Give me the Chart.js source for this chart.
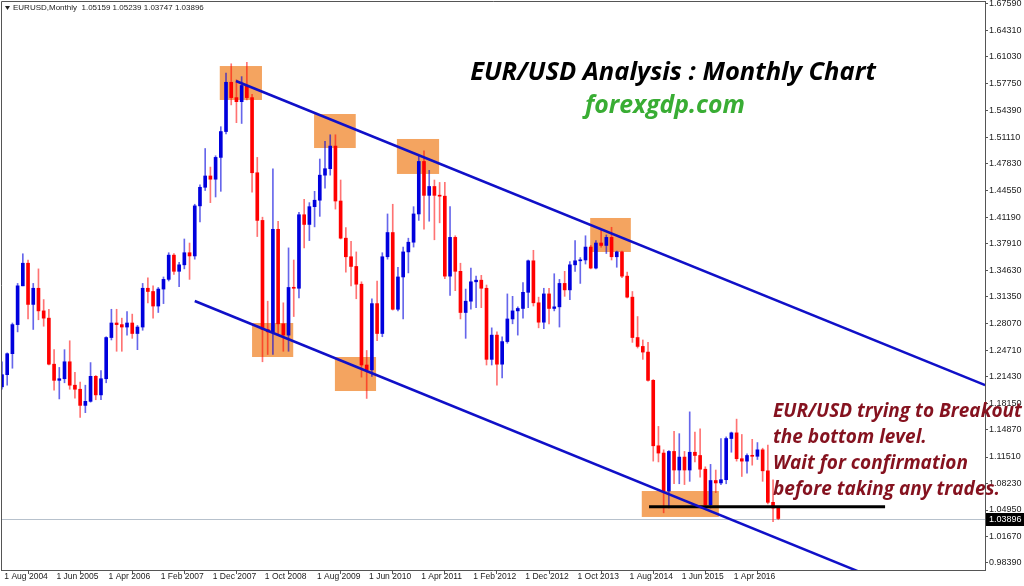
<!DOCTYPE html>
<html>
<head>
<meta charset="utf-8">
<script src="https://cdn.jsdelivr.net/npm/chart.js@4.4.1/dist/chart.umd.min.js"></script>
<style>
  html, body { margin: 0; padding: 0; background: #fff; }
</style>
</head>
<body>
<canvas id="chart" width="1024" height="586"></canvas>
<script>
// EURUSD monthly candles, Aug 2004 .. Jan 2017 (index 0 = Aug 2004)
const opens = [
  1.2020, 1.2170, 1.2430, 1.2790, 1.3270,                                                  // 2004
  1.3550, 1.3040, 1.3240, 1.2960, 1.2870, 1.2300, 1.2100, 1.2120, 1.2330, 1.2040, 1.1990, 1.1790, // 2005
  1.1840, 1.2150, 1.1920, 1.2120, 1.2630, 1.2810, 1.2790, 1.2760, 1.2810, 1.2680, 1.2760, 1.3240, // 2006
  1.3200, 1.3020, 1.3230, 1.3350, 1.3650, 1.3450, 1.3530, 1.3680, 1.3640, 1.4260, 1.4490, 1.4630, // 2007
  1.4590, 1.4860, 1.5180, 1.5790, 1.5600, 1.5550, 1.5750, 1.5600, 1.4670, 1.4080, 1.2730, 1.2700, // 2008
  1.3970, 1.2800, 1.2660, 1.3250, 1.3240, 1.4150, 1.4030, 1.4250, 1.4330, 1.4640, 1.4720, 1.5000, // 2009
  1.4320, 1.3860, 1.3630, 1.3510, 1.3290, 1.2290, 1.2230, 1.3050, 1.2680, 1.3630, 1.3930, 1.2980, // 2010
  1.3380, 1.3690, 1.3810, 1.4160, 1.4810, 1.4390, 1.4500, 1.4390, 1.4380, 1.3390, 1.3870, 1.3450, // 2011
  1.2940, 1.3080, 1.3320, 1.3340, 1.3240, 1.2360, 1.2660, 1.2300, 1.2580, 1.2860, 1.2960, 1.2990, // 2012
  1.3190, 1.3580, 1.3060, 1.2820, 1.3170, 1.2990, 1.3010, 1.3300, 1.3220, 1.3530, 1.3580, 1.3590, // 2013
  1.3750, 1.3490, 1.3800, 1.3770, 1.3870, 1.3630, 1.3690, 1.3390, 1.3130, 1.2630, 1.2520, 1.2450, // 2014
  1.2100, 1.1290, 1.1200, 1.0730, 1.1220, 1.0990, 1.1150, 1.0990, 1.1210, 1.1170, 1.1000, 1.0560, // 2015
  1.0860, 1.0830, 1.0870, 1.1380, 1.1450, 1.1130, 1.1100, 1.1170, 1.1160, 1.1240, 1.0980, 1.0590, // 2016
  1.05159                                                                                  // 2017
];
const highs = [
  1.2330, 1.2440, 1.2810, 1.3300, 1.3667,
  1.3590, 1.3300, 1.3480, 1.3100, 1.2980, 1.2480, 1.2260, 1.2480, 1.2590, 1.2200, 1.2080, 1.2040,
  1.2320, 1.2160, 1.2220, 1.2640, 1.2980, 1.2980, 1.2870, 1.2950, 1.2920, 1.2780, 1.3300, 1.3370,
  1.3270, 1.3250, 1.3380, 1.3680, 1.3670, 1.3560, 1.3850, 1.3800, 1.4280, 1.4520, 1.4970, 1.4740,
  1.4880, 1.5240, 1.5905, 1.6019, 1.5820, 1.5860, 1.6038, 1.5640, 1.4860, 1.4120, 1.3080, 1.4720,
  1.4070, 1.3060, 1.3740, 1.3590, 1.4180, 1.4340, 1.4300, 1.4440, 1.4840, 1.5060, 1.5140, 1.5140,
  1.4580, 1.3990, 1.3820, 1.3690, 1.3320, 1.2470, 1.3110, 1.3330, 1.3680, 1.4160, 1.4280, 1.3500,
  1.3750, 1.3860, 1.4250, 1.4880, 1.4940, 1.4700, 1.4580, 1.4550, 1.4550, 1.4250, 1.3890, 1.3550,
  1.3230, 1.3490, 1.3390, 1.3400, 1.3280, 1.2750, 1.2700, 1.2640, 1.3170, 1.3140, 1.3010, 1.3310,
  1.3590, 1.3710, 1.3130, 1.3240, 1.3240, 1.3420, 1.3350, 1.3450, 1.3570, 1.3830, 1.3620, 1.3890,
  1.3770, 1.3830, 1.3960, 1.3900, 1.3995, 1.3700, 1.3700, 1.3440, 1.3200, 1.2890, 1.2600, 1.2570,
  1.2110, 1.1530, 1.1240, 1.1230, 1.1470, 1.1440, 1.1220, 1.1710, 1.1460, 1.1500, 1.1030, 1.1060,
  1.0990, 1.1380, 1.1400, 1.1460, 1.1620, 1.1430, 1.1190, 1.1370, 1.1330, 1.1260, 1.1300, 1.0870,
  1.05239
];
const lows = [
  1.1990, 1.2040, 1.2250, 1.2700, 1.3270,
  1.2860, 1.2730, 1.2850, 1.2770, 1.2290, 1.1980, 1.1870, 1.2070, 1.1990, 1.1880, 1.1640, 1.1700,
  1.1830, 1.1860, 1.1860, 1.2070, 1.2600, 1.2460, 1.2460, 1.2660, 1.2620, 1.2480, 1.2720, 1.3060,
  1.2870, 1.2940, 1.3050, 1.3330, 1.3410, 1.3260, 1.3480, 1.3350, 1.3600, 1.4060, 1.4450, 1.4300,
  1.4370, 1.4440, 1.5150, 1.5510, 1.5290, 1.5280, 1.5570, 1.4430, 1.3880, 1.2330, 1.2420, 1.2420,
  1.2660, 1.2460, 1.2460, 1.2890, 1.3120, 1.3740, 1.3830, 1.4000, 1.4130, 1.4480, 1.4640, 1.4220,
  1.3850, 1.3440, 1.3270, 1.3110, 1.2140, 1.1876, 1.2150, 1.2590, 1.2640, 1.3600, 1.2970, 1.2960,
  1.2860, 1.3430, 1.3750, 1.4080, 1.3970, 1.4070, 1.3840, 1.4050, 1.3360, 1.3150, 1.3210, 1.2860,
  1.2620, 1.2980, 1.3000, 1.3000, 1.2290, 1.2290, 1.2040, 1.2130, 1.2560, 1.2800, 1.2660, 1.2870,
  1.3000, 1.3020, 1.2750, 1.2740, 1.2800, 1.2960, 1.2760, 1.3140, 1.3100, 1.3450, 1.3300, 1.3540,
  1.3480, 1.3480, 1.3750, 1.3670, 1.3590, 1.3500, 1.3370, 1.3120, 1.2570, 1.2500, 1.2360, 1.2090,
  1.1100, 1.1090, 1.0460, 1.0520, 1.0820, 1.0820, 1.0810, 1.0850, 1.1090, 1.0900, 1.0550, 1.0520,
  1.0710, 1.0810, 1.0820, 1.1210, 1.1100, 1.0910, 1.0950, 1.1050, 1.1120, 1.0850, 1.0570, 1.0350,
  1.03747
];
const closes = [
  1.2170, 1.2430, 1.2790, 1.3270, 1.3550,
  1.3040, 1.3240, 1.2960, 1.2870, 1.2300, 1.2100, 1.2120, 1.2330, 1.2040, 1.1990, 1.1790, 1.1840,
  1.2150, 1.1920, 1.2120, 1.2630, 1.2810, 1.2790, 1.2760, 1.2810, 1.2680, 1.2760, 1.3240, 1.3200,
  1.3020, 1.3230, 1.3350, 1.3650, 1.3450, 1.3530, 1.3680, 1.3640, 1.4260, 1.4490, 1.4630, 1.4590,
  1.4860, 1.5180, 1.5790, 1.5600, 1.5550, 1.5750, 1.5600, 1.4670, 1.4080, 1.2730, 1.2700, 1.3970,
  1.2800, 1.2660, 1.3250, 1.3240, 1.4150, 1.4030, 1.4250, 1.4330, 1.4640, 1.4720, 1.5000, 1.4320,
  1.3860, 1.3630, 1.3510, 1.3290, 1.2290, 1.2230, 1.3050, 1.2680, 1.3630, 1.3930, 1.2980, 1.3380,
  1.3690, 1.3810, 1.4160, 1.4810, 1.4390, 1.4500, 1.4390, 1.4380, 1.3390, 1.3870, 1.3450, 1.2940,
  1.3080, 1.3320, 1.3340, 1.3240, 1.2360, 1.2660, 1.2300, 1.2580, 1.2860, 1.2960, 1.2990, 1.3190,
  1.3580, 1.3060, 1.2820, 1.3170, 1.2990, 1.3010, 1.3300, 1.3220, 1.3530, 1.3580, 1.3590, 1.3750,
  1.3490, 1.3800, 1.3770, 1.3870, 1.3630, 1.3690, 1.3390, 1.3130, 1.2630, 1.2520, 1.2450, 1.2100,
  1.1290, 1.1200, 1.0730, 1.1220, 1.0990, 1.1150, 1.0990, 1.1210, 1.1170, 1.1000, 1.0560, 1.0860,
  1.0830, 1.0870, 1.1380, 1.1450, 1.1130, 1.1100, 1.1170, 1.1160, 1.1240, 1.0980, 1.0590, 1.0520,
  1.03896
];

// time axis labels (month index -> label)
const xTickIdx = [0, 10, 20, 30, 40, 50, 60, 70, 80, 90, 100, 110, 120, 130, 140];
const xTickLabels = ["1 Aug 2004", "1 Jun 2005", "1 Apr 2006", "1 Feb 2007", "1 Dec 2007",
  "1 Oct 2008", "1 Aug 2009", "1 Jun 2010", "1 Apr 2011", "1 Feb 2012", "1 Dec 2012",
  "1 Oct 2013", "1 Aug 2014", "1 Jun 2015", "1 Apr 2016"];

// price axis labels
const yTicks = [1.67590, 1.64310, 1.61030, 1.57750, 1.54390, 1.51110, 1.47830, 1.44550,
  1.41190, 1.37910, 1.34630, 1.31350, 1.28070, 1.24710, 1.21430, 1.18150, 1.14870,
  1.11510, 1.08230, 1.04950, 1.01670, 0.98390];

// channel lines (month index, price)
const upperLine = [[44.9, 1.5806], [188.7, 1.2042]];
const lowerLine = [[37.0, 1.3082], [170.0, 0.9587]];
const supportLine = [[124.2, 1.0535], [169.5, 1.0535]];

// highlighted zones (month from/to, price top/bottom)
const zoneFrom = [41.8, 59.9, 75.8, 48.0, 63.9, 112.9, 122.8];
const zoneTo = [49.9, 67.9, 83.9, 55.9, 71.8, 120.7, 137.6];
const zoneTop = [1.5991, 1.5397, 1.5088, 1.2810, 1.2389, 1.4110, 1.0730];
const zoneBottom = [1.5571, 1.4976, 1.4655, 1.2389, 1.1968, 1.3689, 1.0409];

const noteLines = ["EUR/USD trying to Breakout", "the bottom level.", "Wait for confirmation", "before taking any trades."];

const UP = "#0000dd", DOWN = "#ff0000";
const isUp = opens.map((o, i) => closes[i] >= o);

const wickData = opens.map((_, i) => ({ x: i, y: [lows[i], highs[i]] }));
const bodyData = opens.map((o, i) => ({ x: i, y: [o, closes[i]] }));
const toPts = (arr) => arr.map(([x, y]) => ({ x, y }));

const TEXT_FONT = "'Open Sans'";

function fitSize(ctx, text, style, family, width) {
  ctx.font = `${style} 100px ${family}`;
  return 100 * width / ctx.measureText(text).width;
}

const overlay = {
  id: "overlay",
  beforeDatasetsDraw(chart) {
    const { ctx, chartArea: a, scales: { x, y } } = chart;
    ctx.save();
    ctx.beginPath();
    ctx.rect(a.left, a.top, a.right - a.left, a.bottom - a.top);
    ctx.clip();
    // last price line
    const py = Math.round(y.getPixelForValue(closes[closes.length - 1])) + 0.5;
    ctx.strokeStyle = "#b7c1cc";
    ctx.lineWidth = 1;
    ctx.beginPath();
    ctx.moveTo(a.left, py);
    ctx.lineTo(a.right, py);
    ctx.stroke();
    // zones
    ctx.fillStyle = "#f4a460";
    zoneFrom.forEach((m, k) => {
      const x0 = x.getPixelForValue(m), x1 = x.getPixelForValue(zoneTo[k]);
      const y0 = y.getPixelForValue(zoneTop[k]), y1 = y.getPixelForValue(zoneBottom[k]);
      ctx.fillRect(x0, y0, x1 - x0, y1 - y0);
    });
    ctx.restore();
  },
  afterDraw(chart) {
    const { ctx, chartArea: a, scales: { y } } = chart;
    ctx.save();
    // frame
    ctx.strokeStyle = "#555";
    ctx.lineWidth = 1;
    ctx.beginPath();
    ctx.moveTo(a.left + 0.5, a.bottom);
    ctx.lineTo(a.left + 0.5, a.top + 0.5);
    ctx.lineTo(a.right, a.top + 0.5);
    ctx.stroke();

    // header
    ctx.fillStyle = "#222";
    ctx.beginPath();
    ctx.moveTo(5, 6); ctx.lineTo(10, 6); ctx.lineTo(7.5, 10); ctx.closePath();
    ctx.fill();
    ctx.font = "8px 'Liberation Sans'";
    ctx.textBaseline = "middle";
    ctx.textAlign = "left";
    ctx.fillText("EURUSD,Monthly  " + [opens, highs, lows, closes].map(s => s[s.length - 1].toFixed(5)).join(" "), 13, 8);

    // title
    const title = "EUR/USD Analysis : Monthly Chart";
    let fs = fitSize(ctx, title, "italic bold", TEXT_FONT, 406);
    ctx.font = `italic bold ${fs}px ${TEXT_FONT}`;
    ctx.fillStyle = "#000";
    ctx.textAlign = "center";
    ctx.fillText(title, 673, 73);

    const site = "forexgdp.com";
    fs = fitSize(ctx, site, "italic bold", TEXT_FONT, 160);
    ctx.font = `italic bold ${fs}px ${TEXT_FONT}`;
    ctx.fillStyle = "#39ad34";
    ctx.fillText(site, 665, 106);

    // note
    fs = fitSize(ctx, noteLines[0], "italic bold", TEXT_FONT, 249);
    ctx.font = `italic bold ${fs}px ${TEXT_FONT}`;
    ctx.fillStyle = "#85121f";
    ctx.textAlign = "left";
    noteLines.forEach((t, k) => ctx.fillText(t, 773, 412 + k * 26));

    // last price tag
    const py = Math.round(y.getPixelForValue(closes[closes.length - 1]));
    ctx.fillStyle = "#000";
    ctx.fillRect(a.right + 1, py - 6, 1024 - a.right - 1, 13);
    ctx.fillStyle = "#fff";
    ctx.font = "9px 'Liberation Sans'";
    ctx.fillText(closes[closes.length - 1].toFixed(5), a.right + 4, py + 0.5);
    ctx.restore();
  }
};

new Chart(document.getElementById("chart"), {
  type: "bar",
  data: {
    datasets: [
      {
        type: "line", data: toPts(upperLine), borderColor: "#1010c8", borderWidth: 2.5,
        pointRadius: 0, order: 1
      },
      {
        type: "line", data: toPts(lowerLine), borderColor: "#1010c8", borderWidth: 2.5,
        pointRadius: 0, order: 1
      },
      {
        type: "line", data: toPts(supportLine), borderColor: "#000", borderWidth: 3,
        pointRadius: 0, order: 1
      },
      {
        data: bodyData, grouped: false, barThickness: 3, minBarLength: 1,
        backgroundColor: isUp.map(u => (u ? UP : DOWN)), borderWidth: 0, order: 2
      },
      {
        data: wickData, grouped: false, barThickness: 1,
        backgroundColor: isUp.map(u => (u ? "rgba(0,0,221,0.6)" : "rgba(255,0,0,0.55)")),
        borderWidth: 0, order: 3
      }
    ]
  },
  options: {
    responsive: false,
    animation: false,
    layout: { padding: { left: 1, top: 1, right: 0, bottom: 0 } },
    plugins: { legend: { display: false }, tooltip: { enabled: false } },
    scales: {
      x: {
        type: "linear",
        offset: false,
        min: -0.19,
        max: 188.68,
        afterFit: (s) => { s.height = 16; s.paddingLeft = 0; s.paddingRight = 0; },
        afterBuildTicks: (s) => { s.ticks = xTickIdx.map(v => ({ value: v })); },
        ticks: {
          autoSkip: false, minRotation: 0, maxRotation: 0, align: "start", padding: -2,
          color: "#222", font: { family: "Liberation Sans", size: 8.5 },
          callback: (v, i) => " " + xTickLabels[i]
        },
        grid: { drawOnChartArea: false, tickLength: 4, color: "#555" },
        border: { color: "#555" }
      },
      y: {
        position: "right",
        min: 0.97523,
        max: 1.67961,
        afterFit: (s) => { s.width = 39; s.paddingTop = 0; s.paddingBottom = 0; },
        afterBuildTicks: (s) => { s.ticks = yTicks.map(v => ({ value: v })); },
        ticks: {
          padding: 1, color: "#222", font: { family: "Liberation Sans", size: 9 },
          callback: (v) => v.toFixed(5)
        },
        grid: { drawOnChartArea: false, tickLength: 3, color: "#555" },
        border: { color: "#555" }
      }
    }
  },
  plugins: [overlay]
});
</script>
</body>
</html>
